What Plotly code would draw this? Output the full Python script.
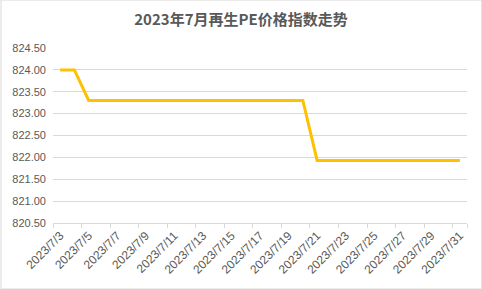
import plotly.graph_objects as go

dates = [f"2023/7/{d}" for d in range(3, 32)]
values = [824.00, 824.00] + [823.30] * 16 + [821.93] * 11
tick_labels = dates[::2]

W, H = 482, 289
L, R, T, B = 52.5, 15.3, 48.3, 66.3
pw, ph = W - L - R, H - T - B

fig = go.Figure()
fig.add_trace(go.Scatter(
    x=dates, y=values, mode="lines",
    line=dict(color="#FFC000", width=3),
    hoverinfo="x+y",
))

fig.update_layout(
    width=W, height=H,
    margin=dict(l=L, r=R, t=T, b=B, pad=0),
    paper_bgcolor="white", plot_bgcolor="white",
    showlegend=False,
    title=dict(
        text="<b>2023年7月再生PE价格指数走势</b>",
        x=0.5, xanchor="center", y=1 - 20 / H, yanchor="middle",
        font=dict(family="Noto Sans CJK SC", size=15, color="#595959"),
    ),
    font=dict(family="Liberation Sans", size=11, color="#595959"),
    xaxis=dict(
        type="category",
        categoryorder="array", categoryarray=dates,
        range=[-0.5, len(dates) - 0.5],
        tickmode="array", tickvals=tick_labels, ticktext=tick_labels,
        tickson="boundaries",
        ticks="outside", ticklen=4, tickcolor="#D9D9D9",
        tickangle=-45,
        showgrid=False, showline=True, linecolor="#D9D9D9", linewidth=1,
        tickfont=dict(family="Liberation Sans", size=12, color="#595959"),
        zeroline=False,
    ),
    yaxis=dict(
        range=[820.5, 824.5], dtick=0.5, tick0=820.5,
        tickformat=".2f",
        showgrid=True, gridcolor="#D9D9D9", gridwidth=1,
        showline=False, zeroline=False, ticks="",
        ticklabelstandoff=6,
        tickfont=dict(family="Liberation Sans", size=11, color="#595959"),
    ),
    shapes=[dict(
        type="rect", xref="paper", yref="paper",
        x0=(0.5 - L) / pw, x1=(W - 0.5 - L) / pw,
        y0=(B - 0.5) / ph * -1, y1=1 + (T - 0.5) / ph,
        line=dict(color="#D9D9D9", width=1), fillcolor="rgba(0,0,0,0)",
        layer="below",
    )],
)

fig.write_html("out.html")
